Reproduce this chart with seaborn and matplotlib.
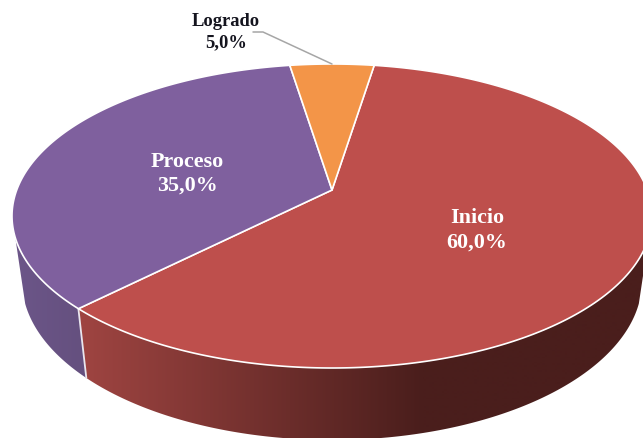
import numpy as np
import matplotlib
matplotlib.use("Agg")
import matplotlib.pyplot as plt
import seaborn as sns
from matplotlib.colors import to_rgb
from matplotlib.patches import Polygon

categories = ["Inicio", "Proceso", "Logrado"]
values = [60.0, 35.0, 5.0]
value_labels = ["60,0%", "35,0%", "5,0%"]
top_colors = ["#BE4F4C", "#7F609E", "#F39548"]
wall_light = ["#9E4441", "#6C5689", "#F39548"]
wall_dark = ["#4A1E1C", "#65507F", "#F39548"]

sns.set_theme(style="white")
plt.rcParams["font.family"] = ["Liberation Serif", "DejaVu Serif"]

W, H = 643, 439
fig = plt.figure(figsize=(W / 100, H / 100), dpi=100)
ax = fig.add_axes([0, 0, 1, 1])
ax.set_xlim(0, W)
ax.set_ylim(H, 0)
ax.axis("off")

# top ellipse, lower ellipse, perspective shift of the apex
cx, cy, rx, ry = 332, 217, 320, 152
bcy, brx, bry = 282, 310, 159
shift = 0.171


def project(theta):
    """theta: clockwise degrees from 12 o'clock on the true circle."""
    t = np.radians(theta)
    u, v = np.sin(t), np.cos(t)
    d = 1 + shift * v
    return u * np.sqrt(1 - shift ** 2) / d, (v + shift) / d


def top_xy(theta):
    u, v = project(theta)
    return cx + rx * u, cy - ry * v


def base_xy(theta):
    u, v = project(theta)
    return cx + brx * u, bcy - bry * v


apex = (cx, cy - ry * shift)
share = np.array(values) / sum(values) * 360
start = share[2] / 2
bounds = []
a = start
for s in share:
    bounds.append((a, a + s))
    a += s

# side wall: a smooth horizontal gradient clipped to each slice's wall outline
xs = np.arange(W + 1)
ramps = [np.clip((xs - 85) / (423 - 85), 0, 1), np.clip((xs - 12) / 70, 0, 1)]
for i in range(2):
    a0, a1 = bounds[i]
    th = np.linspace(a0, a1, 600)
    th = th[project(th)[1] < -0.14]
    c0, c1 = np.array(to_rgb(wall_light[i])), np.array(to_rgb(wall_dark[i]))
    grad = (c0[None, :] + (c1 - c0)[None, :] * ramps[i][:, None])[None, :, :]
    tx, ty = top_xy(th)
    bx, by = base_xy(th)
    outline = Polygon(np.c_[np.r_[tx, bx[::-1]], np.r_[ty, by[::-1]]], closed=True,
                      transform=ax.transData, facecolor="none", edgecolor="none")
    ax.add_patch(outline)
    im = ax.imshow(grad, extent=(0, W, H, 0), aspect="auto", zorder=1, interpolation="bilinear")
    im.set_clip_path(outline)
ax.set_xlim(0, W)
ax.set_ylim(H, 0)

# white seam on the wall between the two visible slices
seam = bounds[0][1]
sx0, sy0 = top_xy(seam)
sx1, sy1 = base_xy(seam)
ax.plot([sx0, sx1], [sy0, sy1], color="#E9E6EE", lw=1.3, zorder=2)

# top face
for i, (a0, a1) in enumerate(bounds):
    th = np.linspace(a0, a1, 300)
    x, y = top_xy(th)
    ax.fill(np.r_[apex[0], x], np.r_[apex[1], y], facecolor=top_colors[i],
            edgecolor="white", lw=1.2, joinstyle="round", zorder=3)

# labels
label_pos = [(477, 218), (187, 162), (226, 22)]
label_gap = [25, 24, 21]
sizes = [15.8, 15.8, 13.3]
colors = ["white", "white", "#14141E"]
for name, val, (lx, ly), gap, fs, c in zip(categories, value_labels, label_pos, label_gap, sizes, colors):
    ax.text(lx, ly, name, ha="center", va="center", fontsize=fs, fontweight="bold", color=c, zorder=5)
    ax.text(lx, ly + gap, val, ha="center", va="center", fontsize=fs, fontweight="bold", color=c, zorder=5)

# leader line for the small slice
ax.plot([253, 263, 332], [33, 33, 65], color="#A6A6A6", lw=1.1, zorder=4)

fig.savefig("out.png", dpi=100, facecolor="white")
